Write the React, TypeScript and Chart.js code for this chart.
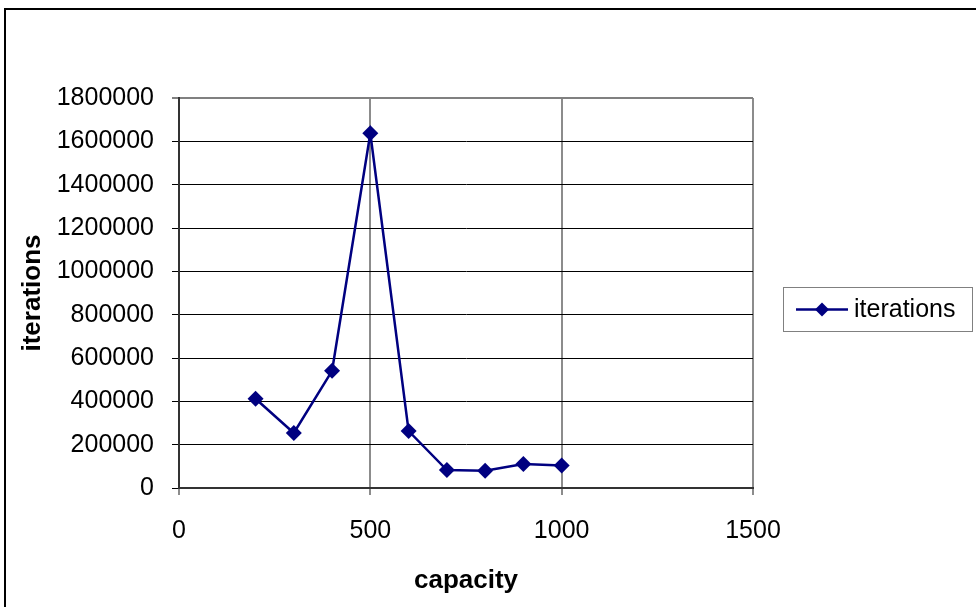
import { useEffect, useRef } from "react";
import { Chart, registerables } from "chart.js";

Chart.register(...registerables);

// Iterations needed for each capacity value
const capacity = [200, 300, 400, 500, 600, 700, 800, 900, 1000];
const iterations = [412000, 254000, 541000, 1637000, 263000, 83000, 80000, 111000, 104000];

const xTicks = [0, 500, 1000, 1500];
const yTicks = [0, 200000, 400000, 600000, 800000, 1000000, 1200000, 1400000, 1600000, 1800000];

const seriesLabel = "iterations";
const xTitle = "capacity";
const yTitle = "iterations";

const FONT = "'Liberation Sans', Arial, Helvetica, sans-serif";
const NAVY = "#000080";

// Outer frame and a boxed legend on the right
const decorations = {
  id: "decorations",
  afterDraw(chart: any) {
    const ctx = chart.ctx as CanvasRenderingContext2D;
    ctx.save();
    // chart frame
    ctx.strokeStyle = "#000";
    ctx.lineWidth = 2;
    ctx.strokeRect(5, 9, 1200, 800);

    // legend box
    const ds = chart.data.datasets[0];
    const bx = 783.5, by = 287.5, bw = 189, bh = 44;
    ctx.strokeStyle = "#808080";
    ctx.lineWidth = 1;
    ctx.fillStyle = "#fff";
    ctx.fillRect(bx, by, bw, bh);
    ctx.strokeRect(bx, by, bw, bh);
    const cy = by + bh / 2;
    ctx.strokeStyle = ds.borderColor;
    ctx.lineWidth = 2.5;
    ctx.beginPath();
    ctx.moveTo(796, cy);
    ctx.lineTo(848, cy);
    ctx.stroke();
    const r = 7;
    ctx.fillStyle = ds.pointBackgroundColor;
    ctx.beginPath();
    ctx.moveTo(822, cy - r);
    ctx.lineTo(822 + r, cy);
    ctx.lineTo(822, cy + r);
    ctx.lineTo(822 - r, cy);
    ctx.closePath();
    ctx.fill();
    ctx.fillStyle = "#000";
    ctx.font = `25px ${FONT}`;
    ctx.textBaseline = "middle";
    ctx.textAlign = "left";
    ctx.fillText(ds.label, 854, cy + 1);
    ctx.restore();
  },
};

export default function App() {
  const ref = useRef<HTMLCanvasElement | null>(null);

  useEffect(() => {
    if (!ref.current) return;
    const chart = new Chart(ref.current, {
      type: "scatter",
      data: {
        datasets: [
          {
            label: seriesLabel,
            data: capacity.map((c, i) => ({ x: c, y: iterations[i] })),
            showLine: true,
            borderColor: NAVY,
            backgroundColor: NAVY,
            pointBackgroundColor: NAVY,
            pointBorderColor: NAVY,
            borderWidth: 2.5,
            pointStyle: "rectRot",
            pointRadius: 8,
            pointBorderWidth: 0,
            tension: 0,
          },
        ],
      },
      plugins: [decorations],
      options: {
        animation: false,
        responsive: false,
        events: [],
        layout: { padding: { top: 98, right: 223, left: 0, bottom: 0 } },
        plugins: {
          legend: { display: false },
          tooltip: { enabled: false },
        },
        scales: {
          x: {
            type: "linear",
            min: 0,
            max: 1500,
            afterBuildTicks: (s: any) => {
              s.ticks = xTicks.map((v) => ({ value: v }));
            },
            afterFit: (s: any) => {
              s.height = 119;
            },
            ticks: {
              color: "#000",
              font: { family: FONT, size: 25 },
              padding: 21,
              callback: (v: any) => String(v),
            },
            grid: { color: "#8c8c8c", lineWidth: 2, tickLength: 7 },
            border: { color: "#333", width: 2 },
            title: {
              display: true,
              text: xTitle,
              color: "#000",
              font: { family: FONT, size: 26, weight: "bold" },
              padding: { top: 0, bottom: 11 },
            },
          },
          y: {
            type: "linear",
            min: 0,
            max: 1800000,
            afterBuildTicks: (s: any) => {
              s.ticks = yTicks.map((v) => ({ value: v }));
            },
            afterFit: (s: any) => {
              s.width = 179;
            },
            ticks: {
              color: "#000",
              font: { family: FONT, size: 25 },
              padding: 18,
              callback: (v: any) => String(v),
            },
            grid: {
              color: (c: any) => (c.tick && c.tick.value === 1800000 ? "#808080" : "#000"),
              lineWidth: (c: any) => (c.tick && c.tick.value === 1800000 ? 2 : 1),
              tickLength: 7,
            },
            border: { color: "#333", width: 2 },
            title: {
              display: true,
              text: yTitle,
              color: "#000",
              font: { family: FONT, size: 26, weight: "bold" },
              padding: { top: 17, bottom: 0 },
            },
          },
        },
      },
    });
    return () => chart.destroy();
  }, []);

  return (
    <div style={{ position: "fixed", left: 0, top: 0, width: 976, height: 607, background: "#fff" }}>
      <canvas ref={ref} width={976} height={607} style={{ display: "block" }} />
    </div>
  );
}
